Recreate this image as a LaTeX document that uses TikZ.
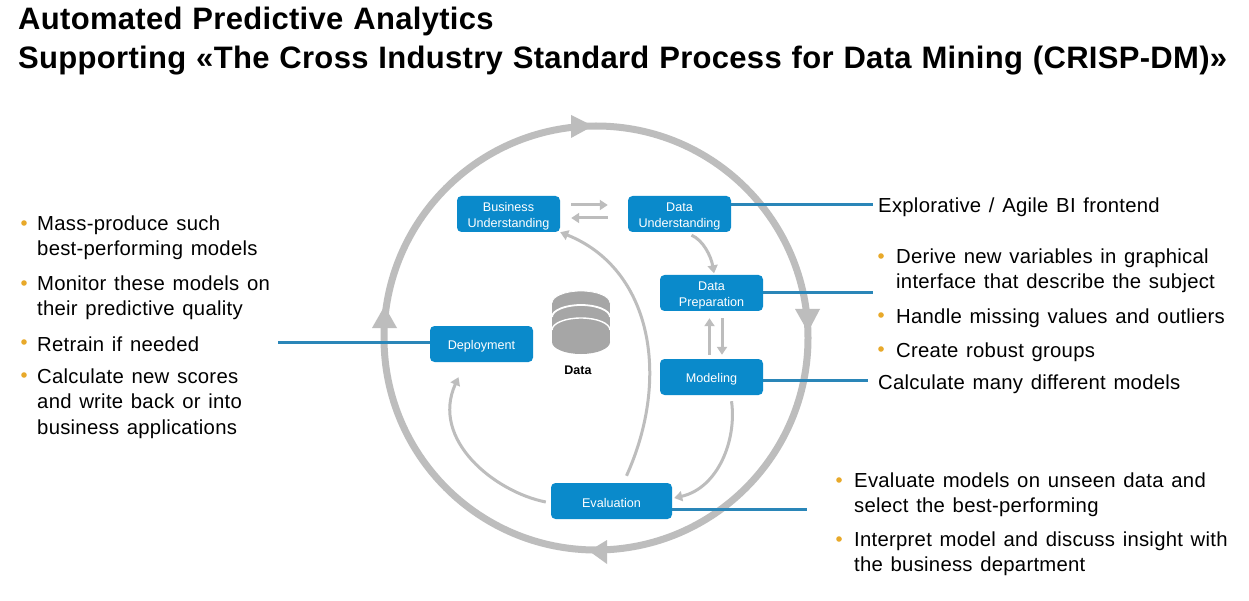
\documentclass[tikz,border=0pt]{standalone}
\usepackage{fontspec}
\setmainfont{Liberation Sans}
\newfontfamily\titlefamily[LetterSpace=1.0]{Liberation Sans}
\newfontfamily\bodyfamily[LetterSpace=1.3]{Liberation Sans}
\usetikzlibrary{arrows.meta,calc}
\definecolor{boxblue}{HTML}{0A8ACB}
\definecolor{lineblue}{HTML}{2A86B8}
\definecolor{ringgray}{HTML}{BDBDBD}
\definecolor{dbgray}{HTML}{A6A6A6}
\definecolor{bulletgold}{HTML}{E8A92A}
\newcommand{\bodyfont}{\bodyfamily\fontsize{20.3}{25.4}\selectfont\spaceskip=0.38em plus 0.1em\relax}
\newcommand{\headfont}{\titlefamily\fontsize{31}{36}\selectfont\bfseries\spaceskip=0.32em plus 0.1em\relax}
\newcommand{\lift}{\rule{0pt}{13pt}}
\tikzset{
  x=1pt,y=-1pt,
  stagebox/.style={fill=boxblue,rounded corners=4.5pt,minimum height=36pt,inner sep=0pt,align=center,text=white,
    font=\fontsize{12.6}{16}\selectfont},
  feed/.style={draw=lineblue,line width=3pt},
  flow/.style={draw=ringgray,line width=3pt,-{Triangle[length=8pt,width=10pt]}},
  ringtip/.style={fill=ringgray,draw=none},
  bodytext/.style={anchor=west,inner sep=0pt,align=left,font=\bodyfont,text=black},
  bulletmark/.style={circle,fill=bulletgold,inner sep=0pt,minimum size=5.6pt},
  titletext/.style={anchor=base west,inner sep=0pt,font=\headfont,text=black},
}
\begin{document}
\begin{tikzpicture}
\useasboundingbox (0,0) rectangle (1249,601);
\fill[white] (0,0) rectangle (1249,601);
% title
\node[titletext] (t1) at (18,30) {Automated Predictive Analytics};
\node[titletext] (t2) at (18,69) {Supporting «The Cross Industry Standard Process for Data Mining (CRISP-DM)»};
% ring
\draw[ringgray,line width=7pt] (596,338) circle[radius=212];
\fill[ringtip] (571,115) -- (593,126) -- (571,138) -- cycle;
\fill[ringtip] (795,309) -- (820,309) -- (808,332) -- cycle;
\fill[ringtip] (607,540) -- (607,564) -- (589,551) -- cycle;
\fill[ringtip] (372,328) -- (397,328) -- (384.5,306) -- cycle;
% feeds
\coordinate (fdu) at (873,204.5);
\coordinate (fdp) at (873,293);
\coordinate (fmod) at (868,380);
\coordinate (fev) at (807,509);
\coordinate (fdep) at (278,342);
% boxes
\node[stagebox,minimum width=103pt] (bu) at (508.5,214) {\lift Business\\Understanding};
\node[stagebox,minimum width=103pt] (du) at (679.5,214) {\lift Data\\Understanding};
\node[stagebox,minimum width=103pt] (dp) at (711.5,293) {\lift Data\\Preparation};
\node[stagebox,minimum width=103pt] (dep) at (481.5,344) {\lift Deployment};
\node[stagebox,minimum width=103pt] (mod) at (711.5,377) {\lift Modeling};
\node[stagebox,minimum width=121pt] (ev) at (611.5,501) {\lift Evaluation};
\draw[feed] (du.east |- fdu) -- (fdu);
\draw[feed] (dp.east) -- (fdp);
\draw[feed] (mod.east |- fmod) -- (fmod);
\draw[feed] (ev.east |- fev) -- (fev);
\draw[feed] (dep.west |- fdep) -- (fdep);
% database
\fill[dbgray] (552,303) rectangle (610,342);
\fill[dbgray] (581,303) ellipse[x radius=29,y radius=12];
\fill[dbgray] (581,342) ellipse[x radius=29,y radius=12];
\draw[white,line width=0.8pt] (552,303) arc[start angle=180,end angle=360,x radius=29,y radius=12];
\draw[white,line width=1.8pt] (552,317) arc[start angle=180,end angle=360,x radius=29,y radius=12];
\draw[white,line width=1.4pt] (552,330) arc[start angle=180,end angle=360,x radius=29,y radius=12];
\node[inner sep=0pt,font=\fontsize{12.5}{15}\selectfont\bfseries] (dbl) at (578,370.5) {Data};
% flow arrows
\draw[flow] ([xshift=11pt,yshift=9pt]bu.east) -- ([xshift=-20pt,yshift=9pt]du.west);
\draw[flow] ([xshift=-20pt,yshift=-4pt]du.west) -- ([xshift=11pt,yshift=-4pt]bu.east);
\draw[flow] ([xshift=12pt,yshift=-3pt]du.south) .. controls (703,240) and (711,256) .. ([xshift=2.5pt,yshift=1.5pt]dp.north);
\draw[flow] ([xshift=-2pt,yshift=4pt]mod.north) -- ([xshift=-2pt,yshift=-7pt]dp.south);
\draw[flow] ([xshift=10.5pt,yshift=-7pt]dp.south) -- ([xshift=10.5pt,yshift=4pt]mod.north);
\draw[flow] ([xshift=20pt,yshift=-6pt]mod.south) .. controls (737,440) and (718,488) .. ([xshift=2pt,yshift=3pt]ev.east);
\draw[flow] ([xshift=15pt,yshift=7pt]ev.north) .. controls (672,375) and (650,268) .. (bu.south east);
\draw[flow] ([xshift=-5pt,yshift=-1pt]ev.west) .. controls (495,492) and (430,440) .. ([xshift=-23pt,yshift=-15pt]dep.south);
% left text
\node[bulletmark] (b1) at (24,223) {};
\node[bodytext] (l1) at (37,238) {Mass-produce such\\best-performing models};
\node[bulletmark] (b2) at (24,283) {};
\node[bodytext] (l2) at (37,298) {Monitor these models on\\their predictive quality};
\node[bulletmark] (b3) at (24,342) {};
\node[bodytext] (l3) at (37,344) {Retrain if needed};
\node[bulletmark] (b4) at (24,375) {};
\node[bodytext] (l4) at (37,403.5) {Calculate new scores\\and write back or into\\business applications};
% right text
\node[bodytext] (r1) at (878,207) {Explorative / Agile BI frontend};
\node[bulletmark] (b5) at (881,256) {};
\node[bodytext] (r2) at (896,271) {Derive new variables in graphical\\interface that describe the subject};
\node[bulletmark] (b6) at (881,315) {};
\node[bodytext] (r3) at (896,318) {Handle missing values and outliers};
\node[bulletmark] (b7) at (881,349) {};
\node[bodytext] (r4) at (896,352) {Create robust groups};
\node[bodytext] (r5) at (878,384) {Calculate many different models};
\node[bulletmark] (b8) at (839,480) {};
\node[bodytext] (r6) at (854,495) {Evaluate models on unseen data and\\select the best-performing};
\node[bulletmark] (b9) at (839,539) {};
\node[bodytext] (r7) at (854,554) {Interpret model and discuss insight with\\the business department};
\end{tikzpicture}
\end{document}
